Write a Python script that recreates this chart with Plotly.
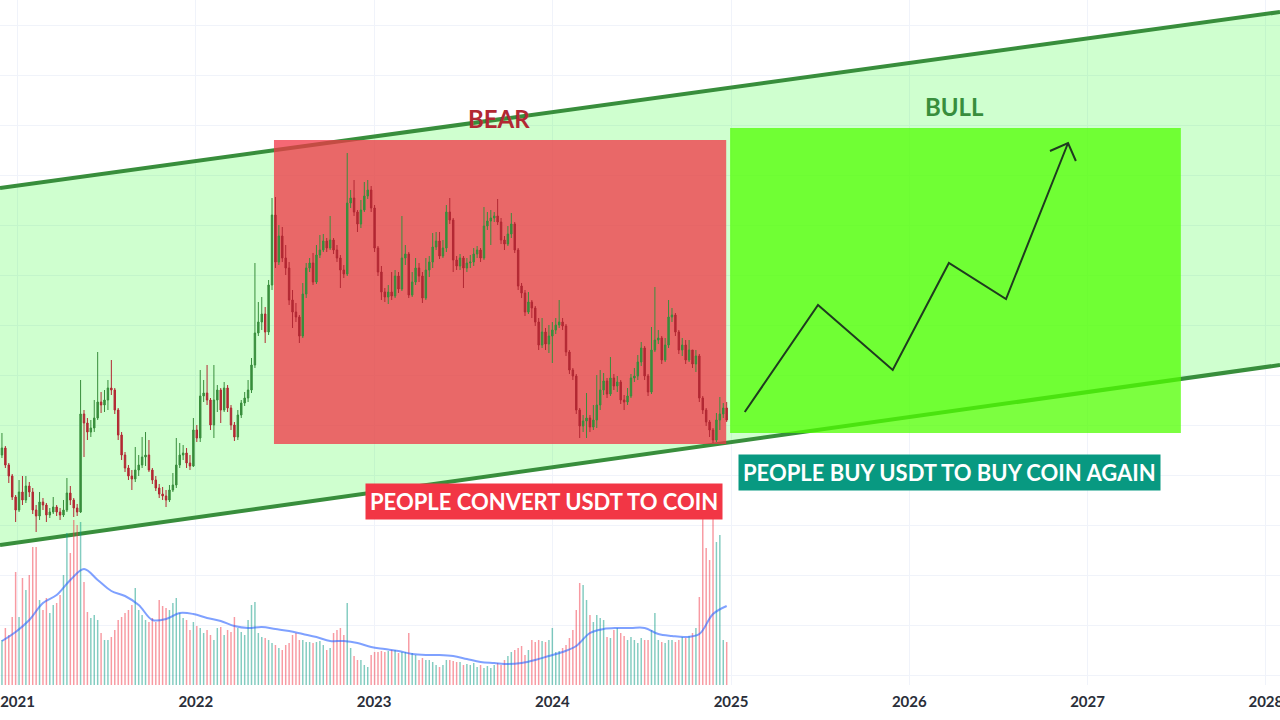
import pandas as pd
import plotly.graph_objects as go

# weekly candles (chart has no price scale, values are in chart units)
candle_dates = pd.date_range("2020-11-30", periods=213, freq="7D")
first_open = 265
closes = [
    272, 255, 244, 223, 210, 228, 220, 234, 228, 210,
    204, 218, 215, 205, 208, 213, 208, 205, 210, 227,
    220, 212, 208, 306, 297, 288, 292, 302, 318, 315,
    320, 332, 330, 310, 285, 265, 252, 244, 241, 250,
    255, 263, 265, 250, 240, 232, 226, 224, 220, 230,
    235, 255, 265, 267, 257, 254, 290, 282, 324, 327,
    320, 295, 320, 330, 310, 332, 312, 295, 283, 305,
    317, 322, 330, 355, 387, 398, 406, 388, 435, 505,
    458, 484, 462, 452, 420, 408, 403, 384, 426, 452,
    457, 438, 465, 470, 479, 472, 480, 470, 462, 450,
    446, 517, 522, 508, 496, 510, 524, 530, 512, 472,
    448, 428, 423, 428, 424, 444, 431, 462, 466, 425,
    438, 452, 444, 422, 450, 458, 473, 479, 464, 472,
    508, 500, 460, 454, 462, 452, 457, 458, 466, 470,
    462, 494, 499, 502, 504, 498, 480, 476, 486, 496,
    470, 434, 427, 408, 418, 412, 398, 375, 388, 376,
    384, 390, 395, 398, 394, 368, 350, 344, 310, 294,
    299, 302, 293, 300, 315, 330, 339, 326, 342, 334,
    338, 320, 318, 324, 342, 344, 358, 372, 344, 328,
    370, 380, 382, 360, 375, 403, 405, 388, 370, 375,
    360, 370, 356, 364, 322, 310, 298, 290, 280, 300,
    306, 312, 300,
]
highs = [
    287, 274, 257, 246, 225, 240, 244, 244, 238, 232,
    215, 228, 222, 217, 212, 223, 215, 212, 220, 242,
    234, 222, 216, 340, 310, 302, 300, 320, 368, 328,
    330, 340, 360, 332, 312, 288, 268, 255, 250, 273,
    265, 283, 288, 280, 252, 244, 236, 233, 230, 235,
    247, 282, 277, 275, 272, 265, 302, 295, 350, 340,
    355, 322, 355, 335, 332, 338, 335, 315, 298, 310,
    320, 328, 340, 362, 457, 418, 423, 413, 440, 522,
    523, 495, 493, 475, 458, 430, 417, 405, 437, 457,
    462, 467, 475, 485, 486, 482, 504, 482, 475, 465,
    455, 567, 530, 540, 510, 520, 538, 540, 534, 515,
    474, 454, 432, 435, 448, 450, 448, 504, 475, 468,
    448, 462, 457, 448, 462, 464, 487, 488, 488, 480,
    515, 522, 502, 464, 466, 464, 462, 465, 472, 474,
    472, 513, 508, 510, 508, 521, 502, 484, 494, 507,
    498, 472, 437, 430, 428, 420, 414, 402, 402, 392,
    395, 398, 402, 420, 402, 396, 370, 352, 346, 312,
    305, 327, 305, 315, 345, 350, 347, 342, 363, 346,
    344, 340, 325, 332, 346, 352, 365, 378, 374, 346,
    393, 433, 390, 384, 382, 420, 412, 407, 390, 382,
    380, 380, 370, 370, 366, 324, 312, 300, 292, 307,
    323, 317, 318,
]
lows = [
    262, 252, 237, 220, 198, 208, 215, 217, 223, 206,
    188, 200, 210, 198, 202, 206, 204, 200, 203, 208,
    215, 203, 204, 207, 263, 280, 283, 288, 300, 307,
    308, 310, 325, 306, 280, 260, 248, 240, 230, 238,
    244, 252, 254, 248, 236, 229, 222, 220, 213, 218,
    228, 232, 252, 260, 252, 250, 253, 278, 278, 318,
    315, 290, 282, 308, 297, 308, 308, 290, 279, 280,
    302, 314, 318, 327, 352, 384, 390, 377, 385, 430,
    452, 455, 458, 445, 415, 392, 398, 377, 382, 422,
    448, 435, 436, 462, 468, 468, 470, 466, 458, 432,
    442, 444, 512, 504, 488, 492, 508, 521, 508, 468,
    444, 420, 418, 416, 420, 422, 427, 429, 455, 422,
    423, 435, 438, 417, 420, 443, 452, 470, 461, 462,
    468, 496, 448, 450, 450, 432, 448, 452, 454, 462,
    458, 460, 490, 475, 498, 495, 476, 470, 474, 482,
    467, 430, 422, 404, 406, 402, 394, 370, 372, 370,
    367, 357, 386, 392, 390, 364, 346, 340, 306, 282,
    288, 282, 288, 290, 292, 310, 325, 322, 324, 330,
    328, 316, 310, 315, 322, 338, 340, 354, 340, 324,
    326, 368, 376, 356, 358, 372, 398, 384, 366, 364,
    356, 358, 352, 348, 318, 306, 294, 283, 277, 278,
    290, 302, 298,
]
volumes = [
    45, 57, 50, 68, 113, 68, 107, 95, 110, 138,
    138, 85, 75, 87, 72, 80, 82, 90, 110, 152,
    132, 165, 160, 163, 103, 73, 67, 70, 65, 52,
    45, 45, 48, 55, 65, 68, 72, 75, 80, 97,
    75, 70, 65, 63, 67, 63, 85, 79, 77, 75,
    82, 87, 72, 67, 65, 55, 63, 59, 57, 52,
    55, 50, 45, 57, 58, 50, 55, 53, 68, 57,
    53, 50, 65, 80, 83, 52, 48, 47, 45, 42,
    40, 37, 35, 40, 42, 50, 52, 45, 45, 43,
    43, 42, 43, 44, 40, 35, 37, 52, 55, 57,
    50, 82, 37, 29, 25, 25, 20, 18, 30, 33,
    33, 34, 33, 34, 35, 35, 32, 33, 33, 52,
    32, 30, 25, 27, 25, 25, 23, 20, 18, 20,
    25, 25, 24, 23, 23, 20, 21, 20, 22, 18,
    20, 17, 19, 17, 20, 22, 20, 25, 29, 33,
    35, 37, 39, 30, 35, 45, 43, 45, 44, 43,
    45, 57, 33, 34, 37, 40, 47, 55, 75, 102,
    100, 85, 70, 63, 70, 67, 65, 48, 47, 55,
    57, 52, 49, 45, 48, 45, 42, 47, 45, 45,
    55, 72, 45, 43, 42, 45, 45, 43, 45, 48,
    47, 49, 52, 57, 88, 185, 137, 125, 185, 143,
    150, 45, 43,
]
# volume moving average, read every 4th week
vol_ma = [
    44, 53, 65, 82, 90, 105, 116, 105, 94, 89, 80, 65, 66, 72,
    71, 67, 64, 59, 57, 58, 56, 54, 51, 48, 44, 44, 42, 38,
    36, 34, 31, 30, 30, 29, 26, 23, 22, 21, 22, 25, 29, 33,
    39, 52, 56, 57, 57, 57, 51, 49, 48, 51, 71, 79,
]
ma_dates = candle_dates[::4]

# drawings
channel_dates = ["2020-11-26", "2028-01-30"]
channel_top = [532, 708]
channel_bottom = [175, 355]
bear_box_dates = ["2022-06-10", "2024-12-22"]
bear_box_prices = [276, 580]
bull_box_dates = ["2024-12-30", "2027-07-11"]
bull_box_prices = [287, 592]
bull_path_dates = ["2025-01-29", "2025-06-28", "2025-11-28",
                   "2026-03-23", "2026-07-18", "2026-11-22"]
bull_path_prices = [308, 415, 350, 457, 421, 577]
arrow_head_dates = ["2026-10-16", "2026-11-22", "2026-12-08"]
arrow_head_prices = [569, 577, 559]

opens = [first_open] + closes[:-1]
vol_colors = ["rgba(8,153,129,0.5)" if c >= o else "rgba(242,54,69,0.5)"
              for o, c in zip(opens, closes)]

fig = go.Figure()

fig.add_trace(go.Bar(
    x=candle_dates, y=volumes, yaxis="y2",
    marker=dict(color=vol_colors, line=dict(width=0)),
    width=3 * 24 * 3600 * 1000,
))
fig.add_trace(go.Scatter(
    x=ma_dates, y=vol_ma, yaxis="y2", mode="lines",
    line=dict(color="rgba(41,98,255,0.6)", width=2, shape="spline"),
))
fig.add_trace(go.Candlestick(
    x=candle_dates, open=opens, high=highs, low=lows, close=closes,
    increasing=dict(line=dict(color="#388e3c", width=1), fillcolor="#388e3c"),
    decreasing=dict(line=dict(color="#b22833", width=1), fillcolor="#b22833"),
    whiskerwidth=0,
))
fig.add_trace(go.Scatter(
    x=bull_path_dates, y=bull_path_prices, mode="lines",
    line=dict(color="#1f3b1f", width=2),
))
fig.add_trace(go.Scatter(
    x=arrow_head_dates, y=arrow_head_prices, mode="lines",
    line=dict(color="#1f3b1f", width=2),
))

d0, d1 = channel_dates
path = (f"M {d0},{channel_top[0]} L {d1},{channel_top[1]} "
        f"L {d1},{channel_bottom[1]} L {d0},{channel_bottom[0]} Z")
shapes = [
    dict(type="path", path=path, xref="x", yref="y",
         fillcolor="rgba(0,255,0,0.19)", line=dict(width=0), layer="between"),
    dict(type="line", x0=d0, x1=d1, y0=channel_top[0], y1=channel_top[1],
         xref="x", yref="y", line=dict(color="#388e3c", width=4), layer="between"),
    dict(type="line", x0=d0, x1=d1, y0=channel_bottom[0], y1=channel_bottom[1],
         xref="x", yref="y", line=dict(color="#388e3c", width=4), layer="between"),
    dict(type="rect", x0=bear_box_dates[0], x1=bear_box_dates[1],
         y0=bear_box_prices[0], y1=bear_box_prices[1], xref="x", yref="y",
         fillcolor="rgba(242,54,69,0.75)", line=dict(width=0), layer="between"),
    dict(type="rect", x0=bull_box_dates[0], x1=bull_box_dates[1],
         y0=bull_box_prices[0], y1=bull_box_prices[1], xref="x", yref="y",
         fillcolor="rgba(80,255,0,0.75)", line=dict(width=0), layer="between"),
]

font = "Lato, Open Sans, sans-serif"
annotations = [
    dict(x="2023-09-14", y=602, text="BEAR", showarrow=False,
         font=dict(family=font, size=24, color="#b22833", weight="bold")),
    dict(x="2026-04-04", y=614, text="BULL", showarrow=False,
         font=dict(family=font, size=24, color="#388e3c", weight="bold")),
    dict(x="2023-12-14", y=218.5, text="PEOPLE CONVERT USDT TO COIN",
         showarrow=False, bgcolor="#f23645", borderpad=4,
         font=dict(family=font, size=22, color="white", weight="bold")),
    dict(x="2026-03-25", y=247.5, text="PEOPLE BUY USDT TO BUY COIN AGAIN",
         showarrow=False, bgcolor="#089981", borderpad=4,
         font=dict(family=font, size=22, color="white", weight="bold")),
]

fig.update_layout(
    width=1280, height=720,
    margin=dict(l=0, r=0, t=0, b=35, autoexpand=False),
    paper_bgcolor="white", plot_bgcolor="white",
    showlegend=False,
    boxgap=0.4,
    shapes=shapes,
    annotations=annotations,
    xaxis=dict(
        range=channel_dates, type="date",
        rangeslider=dict(visible=False),
        dtick="M12", tick0="2021-01-01", tickformat="%Y",
        showgrid=True, gridcolor="#f0f3fa", zeroline=False,
        showline=False, ticks="", ticklabelstandoff=6,
        ticklabeloverflow="allow", automargin=False,
        tickfont=dict(family=font, size=15, color="#2a2e39", weight="bold"),
    ),
    yaxis=dict(
        range=[35, 720], showticklabels=False, tick0=45, dtick=50,
        showgrid=True, gridcolor="#f0f3fa", zeroline=False,
    ),
    yaxis2=dict(
        range=[0, 685], overlaying="y", visible=False, showgrid=False,
    ),
)

# page body has a default 8px margin; drop it so the chart fills the window,
# and clip the last year label at the window edge instead of widening the page
fig.write_html(
    "out.html", config={"displayModeBar": False},
    post_script="document.body.style.margin='0';"
                "document.body.style.overflow='hidden';"
                "document.documentElement.style.overflow='hidden';",
)
